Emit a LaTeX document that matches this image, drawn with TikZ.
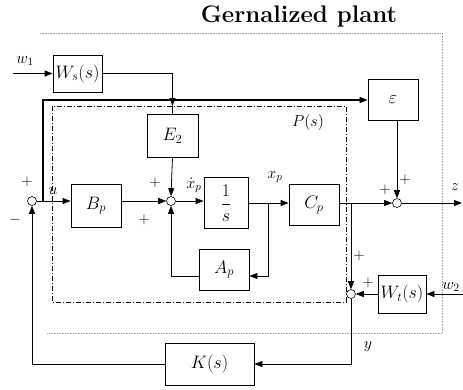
\RequirePackage{fix-cm}
\documentclass[tikz,border=0pt]{standalone}
\usepackage{amsmath}
\usepackage{amssymb}
\usepackage{tikz}
\usetikzlibrary{arrows.meta}

\tikzset{
  blk/.style={draw,line width=0.8pt,inner sep=0pt,font=\fontsize{18}{21}\selectfont},
  sumpt/.style={circle,draw,line width=0.6pt,inner sep=0pt,minimum size=9pt},
  lbl/.style={inner sep=0pt,font=\fontsize{16}{18}\selectfont},
  sgn/.style={inner sep=0pt,font=\fontsize{15}{17}\selectfont},
  wire/.style={line width=0.8pt},
}

\begin{document}
\begin{tikzpicture}[x=1pt,y=-1pt,>={Triangle[length=8pt,width=6pt]}]
  \useasboundingbox (0,0) rectangle (463,389);
  \node[inner sep=0pt,font=\fontsize{24}{28}\selectfont\bfseries] (title) at (299,16) {Gernalized plant};
  \draw[gray!70,densely dotted,line width=0.6pt] (40,33) -- (442,33) -- (442,333) -- (47,333);
  \draw[line width=0.6pt,dash pattern=on 5pt off 2pt on 1pt off 2pt] (52,106) rectangle (346,302);
  \node[lbl] (Ps) at (308,122) {$P(s)$};

  \node[blk,minimum width=49pt,minimum height=37pt] (Ws) at (77.5,73.5) {$W_s(s)$};
  \node[blk,minimum width=51pt,minimum height=43pt] (E2) at (172.5,135.5) {$E_2$};
  \node[blk,minimum width=50pt,minimum height=41pt] (eps) at (393,100) {$\varepsilon$};
  \node[blk,minimum width=50pt,minimum height=43pt] (Bp) at (96,205.5) {$B_p$};
  \node[blk,minimum width=44pt,minimum height=51pt] (integ) at (226,203) {$\dfrac{1}{s}$};
  \node[blk,minimum width=50pt,minimum height=41pt] (Cp) at (314,205) {$C_p$};
  \node[blk,minimum width=50pt,minimum height=41pt] (Ap) at (224,269.5) {$A_p$};
  \node[blk,minimum width=48pt,minimum height=38pt] (Wt) at (402,294) {$W_t(s)$};
  \node[blk,minimum width=89pt,minimum height=42pt] (K) at (209.5,364) {$K(s)$};

  \node[sumpt] (s1) at (32,201) {};
  \node[sumpt] (s2) at (171,201) {};
  \node[sumpt] (s3) at (397,203) {};
  \node[sumpt] (s4) at (351,294) {};

  \coordinate (w1in) at (13,73.5);
  \coordinate (e2in) at (172.5,106);
  \coordinate (ub) at (43,201);
  \coordinate (xb) at (268,203);
  \coordinate (yb) at (351,203);
  \coordinate (zout) at (462,203);
  \coordinate (w2in) at (463,294);

  \draw[wire,->] (w1in) -- (Ws.west);
  \draw[line width=1.1pt,->] (Ws.east) -| (e2in);
  \draw[line width=1.1pt] (e2in) -- (E2.north);
  \draw[line width=1.4pt,->] (ub) |- (eps.west);
  \draw[wire,->] (s1.east) -- (s1 -| Bp.west);
  \draw[wire,->] (Bp.east |- s2) -- (s2.west);
  \draw[wire,->] (E2.south) -- (s2.north);
  \draw[wire,->] (s2.east) -- (s2 -| integ.west);
  \draw[wire,->] (integ.east |- xb) -- (xb -| Cp.west);
  \draw[wire,->] (xb) |- ([yshift=-6.5pt]Ap.east);
  \draw[wire,->] ([yshift=-6.5pt]Ap.west) -| (s2.south);
  \draw[wire,->] (Cp.east |- s3) -- (s3.west);
  \draw[wire,->] (eps.south -| s3) -- (s3.north);
  \draw[wire,->] (s3.east) -- (zout);
  \draw[wire,->] (yb) -- (s4.north);
  \draw[wire,->] (w2in) -- (Wt.east);
  \draw[wire,->] (Wt.west) -- (s4.east);
  \draw[wire,->] (s4.south) |- (K.east);
  \draw[wire,->] (K.west) -| (s1.south);

  \node[lbl] (w1) at (25,61) {$w_1$};
  \node[lbl] (w2) at (451,287) {$w_2$};
  \node[lbl] (u) at (53,191) {$u$};
  \node[lbl] (xdot) at (194,185) {$\dot{x}_p$};
  \node[lbl] (xp) at (275,177) {$x_p$};
  \node[lbl] (z) at (455,187) {$z$};
  \node[lbl] (y) at (368,347) {$y$};

  \node[sgn] (p1) at (27,182) {$+$};
  \node[sgn] (m1) at (15,220) {$-$};
  \node[sgn] (p2) at (155,183) {$+$};
  \node[sgn] (p3) at (144,220) {$+$};
  \node[sgn] (p4) at (385,190) {$+$};
  \node[sgn] (p5) at (405,180) {$+$};
  \node[sgn] (p6) at (359,256) {$+$};
  \node[sgn] (p7) at (368,283) {$+$};
\end{tikzpicture}
\end{document}
